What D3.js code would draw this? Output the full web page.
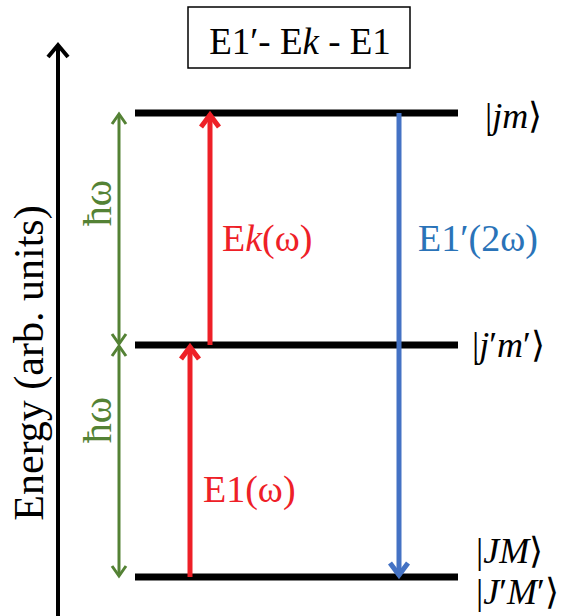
<!DOCTYPE html>
<html>
<head>
<meta charset="utf-8">
<script src="https://d3js.org/d3.v7.min.js"></script>
<style>
body { margin: 0; background: #fff; }
</style>
</head>
<body>
<svg width="582" height="616"></svg>
<script>
// energy levels, in units of hbar*omega
const levelEnergy = [0, 1, 2];
const levelKets = [['|JM⟩', '|J′M′⟩'], ['|j′m′⟩'], ['|jm⟩']];

// transitions: from level -> to level
const transFrom = [0, 1, 2];
const transTo = [1, 2, 0];
const transLabel = ['E1(ω)', 'Ek(ω)', 'E1′(2ω)'];

// photon energy steps (green double arrows)
const stepFrom = [0, 1];
const stepTo = [1, 2];
const stepLabel = ['ħω', 'ħω'];

const title = 'E1′- Ek - E1';
const axisLabel = 'Energy (arb. units)';

const FONT = 'Liberation Serif';
const svg = d3.select('svg');
const y = d3.scaleLinear().domain([0, 2]).range([577, 113]);
const x = d3.scaleLinear().domain([0, 1]).range([135, 458]);

const red = '#ee2027', blue = '#4472c4', blueText = '#2a73b8', green = '#548235';

// chevron arrowhead at (cx, cy), pointing up (dir=-1) or down (dir=1)
const head = (g, cx, cy, dir, w, h, color, sw) => {
  g.append('path')
    .attr('d', `M${cx - w / 2},${cy - dir * h} L${cx},${cy} L${cx + w / 2},${cy - dir * h}`)
    .attr('fill', 'none').attr('stroke', color).attr('stroke-width', sw)
    .attr('stroke-linejoin', 'miter');
};

const txt = (g) => g.append('text').attr('font-family', FONT);

// italic parts marked with *...*, drawn as separate text pieces side by side
const rich = (g, s, x0, y0, size, color, anchor) => {
  const parts = s.split(/(\*[^*]+\*)/).filter(p => p);
  const nodes = parts.map(p => {
    const it = p[0] === '*';
    return txt(g).attr('y', y0).attr('font-size', size).attr('fill', color)
      .attr('font-style', it ? 'italic' : 'normal')
      .style('white-space', 'pre')
      .text(it ? p.slice(1, -1) : p);
  });
  const widths = nodes.map(n => n.node().getComputedTextLength());
  let cx = anchor === 'middle' ? x0 - d3.sum(widths) / 2 : x0;
  nodes.forEach((n, i) => { n.attr('x', cx); cx += widths[i]; });
};

// energy axis
svg.append('line').attr('x1', 58).attr('x2', 58).attr('y1', 616).attr('y2', 45)
  .attr('stroke', '#000').attr('stroke-width', 4);
head(svg, 58, 45, -1, 20, 12, '#000', 4);
txt(svg)
  .attr('transform', `translate(43,${y(1) + 18}) rotate(-90)`)
  .attr('text-anchor', 'middle').attr('font-size', 42)
  .text(axisLabel);

// levels
svg.selectAll('.level').data(levelEnergy).enter().append('line')
  .attr('class', 'level')
  .attr('x1', x(0)).attr('x2', x(1))
  .attr('y1', d => y(d)).attr('y2', d => y(d))
  .attr('stroke', '#000').attr('stroke-width', 7);

// green steps
const stepLabelY = [420, 203];
stepFrom.forEach((f, i) => {
  const gx = 119, y1 = y(f), y2 = y(stepTo[i]);
  svg.append('line').attr('x1', gx).attr('x2', gx).attr('y1', y1 - 1).attr('y2', y2 + 1)
    .attr('stroke', green).attr('stroke-width', 3);
  head(svg, gx, y2 + 1, -1, 14, 10, green, 3);
  head(svg, gx, y1 - 1, 1, 14, 10, green, 3);
  txt(svg)
    .attr('transform', `translate(111,${stepLabelY[i]}) rotate(-90)`)
    .attr('text-anchor', 'middle').attr('font-size', 40).attr('fill', green)
    .text(stepLabel[i]);
});

// transitions
const tx = [190, 210, 399];
const tColor = [red, red, blue];
const tText = [red, red, blueText];
const tLabelPos = [[203, 502], [222, 251], [418, 251]];
transFrom.forEach((f, i) => {
  const y1 = y(f), y2 = y(transTo[i]);
  const dir = y2 > y1 ? 1 : -1;
  svg.append('line').attr('x1', tx[i]).attr('x2', tx[i])
    .attr('y1', y1).attr('y2', y2 - dir * 2)
    .attr('stroke', tColor[i]).attr('stroke-width', 5);
  head(svg, tx[i], y2 - dir * 2, dir, 18, 12, tColor[i], 5);
  rich(svg, transLabel[i].replace('Ek', 'E*k*'), tLabelPos[i][0], tLabelPos[i][1], 38, tText[i]);
});

// kets
const ketPos = [[[476, 563], [476, 604]], [[472, 357]], [[485, 128]]];
levelKets.forEach((ks, li) => {
  ks.forEach((k, j) => {
    rich(svg, k.replace(/([A-Za-z]+)/g, '*$1*'), ketPos[li][j][0], ketPos[li][j][1], 36, '#000');
  });
});

// title box
svg.append('rect').attr('x', 188).attr('y', 7).attr('width', 222).attr('height', 61)
  .attr('fill', '#fff').attr('stroke', '#000').attr('stroke-width', 1.5);
rich(svg, title.replace('Ek', 'E*k*'), 300, 54, 37, '#000', 'middle');
</script>
</body>
</html>
